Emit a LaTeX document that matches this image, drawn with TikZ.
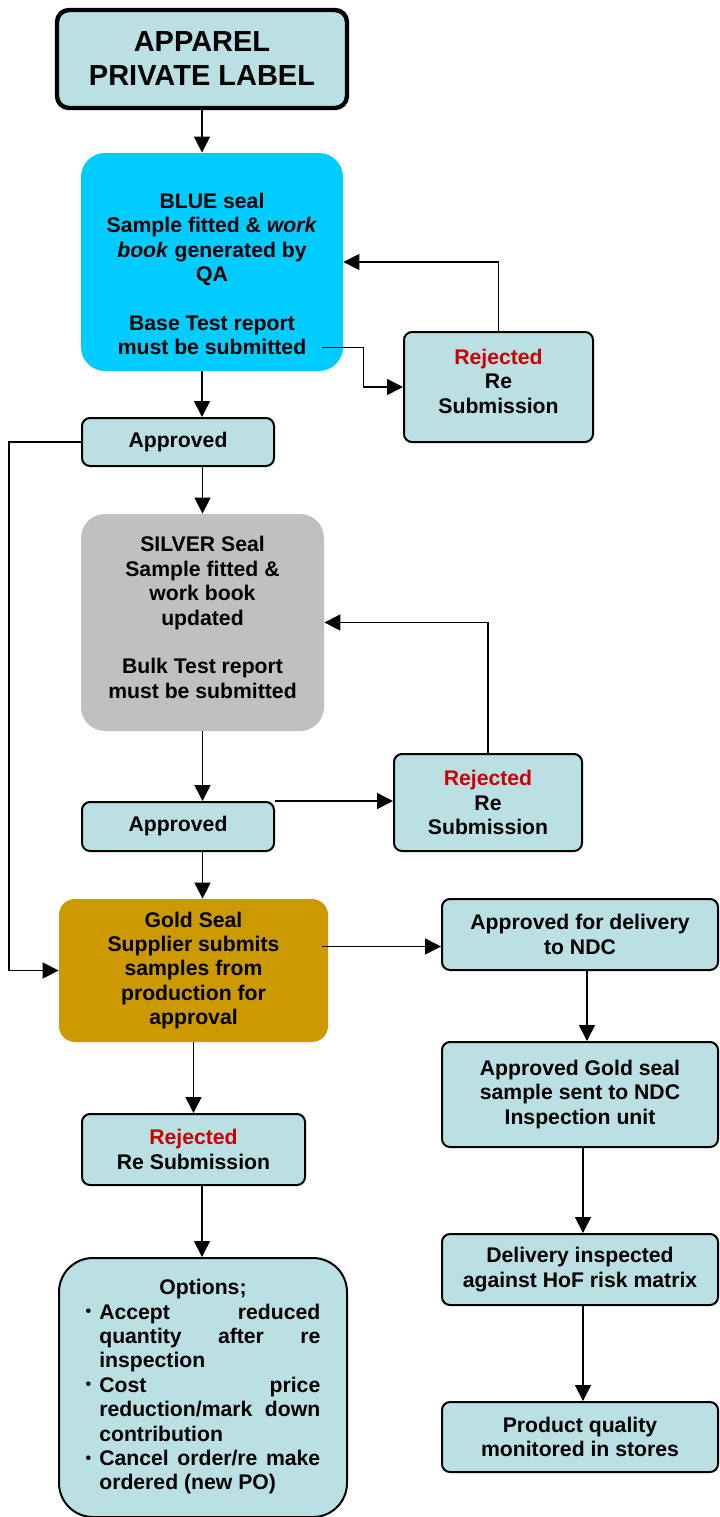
\documentclass[tikz,border=0pt]{standalone}
\usepackage{fontspec}
\setmainfont{Liberation Sans}
\usepackage{tikz}
\usetikzlibrary{arrows.meta,calc}
\definecolor{paleaqua}{RGB}{187,224,228}
\definecolor{sealblue}{RGB}{0,204,255}
\definecolor{sealsilver}{RGB}{192,192,192}
\definecolor{sealgold}{RGB}{204,153,0}
\definecolor{rejred}{RGB}{204,0,0}
\newcommand{\rej}{\textcolor{rejred}{Rejected}}
\newcommand{\optbul}{\raisebox{1.2pt}{\fontsize{8}{8}\selectfont\textbullet}}

\begin{document}
\begin{tikzpicture}[x=0.5pt,y=-0.5pt,
    txt/.style={font=\fontsize{10.6}{12.2}\selectfont\bfseries, align=center},
    lightbox/.style={txt, draw, line width=1pt, fill=paleaqua, rounded corners=4pt, inner sep=0pt},
    sealbox/.style={txt, rounded corners=12pt, inner sep=0pt},
    link/.style={line width=0.75pt},
    arr/.style={link, -{Triangle[length=8pt,width=8pt]}}]
            \useasboundingbox (0,0) rectangle (719,1517);

            \node[lightbox, line width=2.2pt, rounded corners=6pt, minimum width=145pt, minimum height=49pt,
                font=\fontsize{14.5}{17}\selectfont\bfseries] (title) at (202,59) {APPAREL\\PRIVATE LABEL};

            \node[sealbox, fill=sealblue, minimum width=131pt, minimum height=109pt] (blue) at (212,262) {};
            \node[txt] (bluetxt) at (212,274) {BLUE seal\\Sample fitted \& \textit{work}\\\textit{book} generated by\\QA\\[12.2pt]Base Test report\\must be submitted};
            \node[lightbox, text depth=6pt, minimum width=94.5pt, minimum height=55pt] (rej1) at (498.5,387) {\rej\\Re\\Submission};
            \node[lightbox, minimum width=96pt, minimum height=24pt] (appr1) at (178,442) {Approved};

            \node[sealbox, text depth=5pt, fill=sealsilver, minimum width=121.5pt, minimum height=108.5pt] (silver) at (202.5,622.5) {SILVER Seal\\Sample fitted \&\\work book\\updated\\[12.2pt]Bulk Test report\\must be submitted};
            \node[lightbox, minimum width=94pt, minimum height=48.5pt] (rej2) at (488,802.5) {\rej\\Re\\Submission};
            \node[lightbox, minimum width=96pt, minimum height=24.5pt] (appr2) at (178,826.5) {Approved};

            \node[sealbox, rounded corners=8pt, fill=sealgold, minimum width=134.5pt, minimum height=71.5pt] (gold) at (193.5,970.5) {Gold Seal\\Supplier submits\\samples from\\production for\\approval};
            \node[lightbox, minimum width=111.5pt, minimum height=35.5pt] (rej3) at (193.5,1149.5) {\rej\\Re Submission};
            \node[lightbox, rounded corners=17pt, minimum width=144pt, minimum height=129.5pt] (opts) at (203,1387.5) {%
                \begin{tabular}{@{}l@{\hspace{4pt}}l@{}}
                \multicolumn{2}{@{}c@{}}{Options;}\\
                \optbul & \makebox[110.5pt][s]{Accept reduced}\\
                        & \makebox[110.5pt][s]{quantity after re}\\
                        & inspection\\
                \optbul & \makebox[110.5pt][s]{Cost price}\\
                        & \makebox[110.5pt][s]{reduction/mark down}\\
                        & contribution\\
                \optbul & \makebox[110.5pt][s]{Cancel order/re make}\\
                        & ordered (new PO)
                \end{tabular}};

            \node[lightbox, minimum width=138pt, minimum height=35.5pt] (deliv) at (580,934.5) {Approved for delivery\\to NDC};
            \node[lightbox, minimum width=138pt, minimum height=52.5pt] (sent) at (580,1094.5) {Approved Gold seal\\sample sent to NDC\\Inspection unit};
            \node[lightbox, minimum width=138pt, minimum height=35.5pt] (insp) at (580,1269.5) {Delivery inspected\\against HoF risk matrix};
            \node[lightbox, minimum width=138pt, minimum height=35pt] (prod) at (580,1437) {Product quality\\monitored in stores};

            \coordinate (bluestart) at ($(blue.south east)+(-21,-24)$);
            \coordinate (goldstart) at ($(gold.east)+(-6,-24)$);

            \draw[arr] (title.south) -- (title.south |- blue.north);
            \draw[arr] (bluestart) -- ++(41,0) |- (rej1.west);
            \draw[arr] (rej1.north) |- (blue.east);
            \draw[arr] (blue.south -| title.south) -- (appr1.north -| title.south);
            \draw[arr] (appr1.west) -- ++(-72,0) |- (gold.west);
            \draw[arr] (appr1.south -| silver.north) -- (silver.north);
            \draw[arr] (rej2.north) |- (silver.east);
            \draw[arr] (silver.south) -- (silver.south |- appr2.north);
            \draw[arr] (appr2.north east) -- (appr2.north east -| rej2.west);
            \draw[arr] (appr2.south -| silver.north) -- (gold.north -| silver.north);
            \draw[arr] (goldstart) -- (goldstart -| deliv.west);
            \draw[arr] (gold.south) -- (rej3.north);
            \draw[arr] (rej3.south -| title.south) -- (opts.north -| title.south);
            \draw[arr] ([xshift=3.5pt]deliv.south) -- ([xshift=3.5pt]sent.north);
            \draw[arr] ([xshift=1.5pt]sent.south) -- ([xshift=1.5pt]insp.north);
            \draw[arr] ([xshift=1.5pt]insp.south) -- ([xshift=1.5pt]prod.north);
\end{tikzpicture}
\end{document}
